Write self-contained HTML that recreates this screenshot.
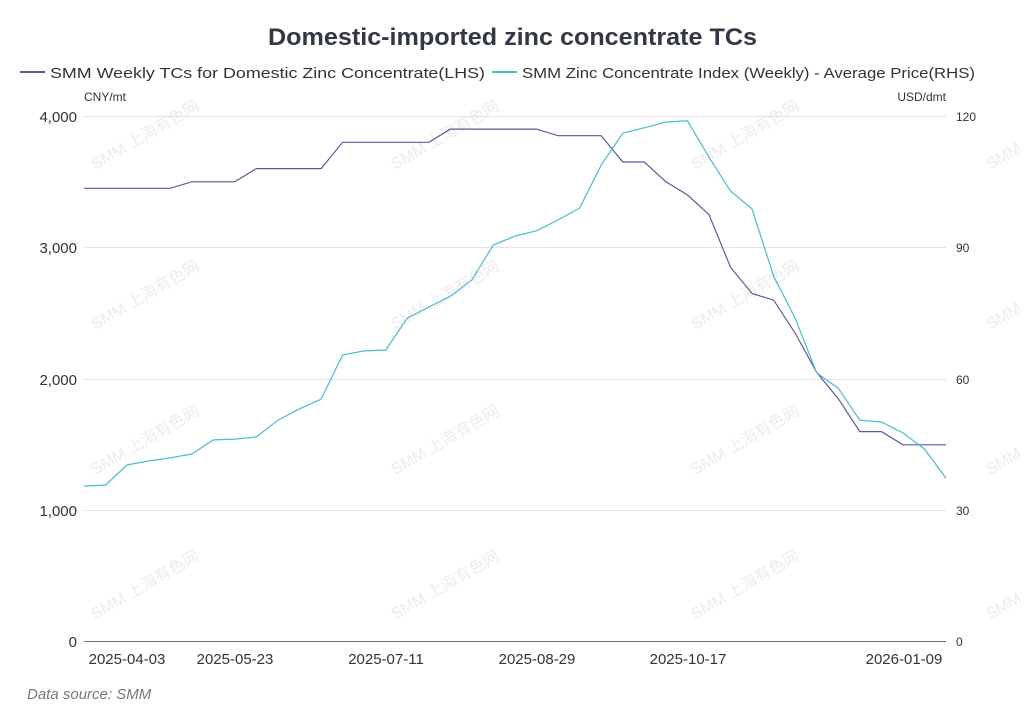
<!DOCTYPE html>
<html><head><meta charset="utf-8"><style>
body{margin:0;background:#fff;}
svg{display:block;font-family:"Liberation Sans","Noto Sans CJK SC",sans-serif;}
</style></head><body>
<svg width="1024" height="722" viewBox="0 0 1024 722" xmlns="http://www.w3.org/2000/svg">
<g fill="#ececec" font-size="16">
<text transform="translate(95,330) rotate(-30)">SMM 上海有色网</text>
<text transform="translate(95,475) rotate(-30)">SMM 上海有色网</text>
<text transform="translate(95,620) rotate(-30)">SMM 上海有色网</text>
<text transform="translate(95,170) rotate(-30)">SMM 上海有色网</text>
<text transform="translate(395,170) rotate(-30)">SMM 上海有色网</text>
<text transform="translate(395,330) rotate(-30)">SMM 上海有色网</text>
<text transform="translate(395,475) rotate(-30)">SMM 上海有色网</text>
<text transform="translate(395,620) rotate(-30)">SMM 上海有色网</text>
<text transform="translate(695,170) rotate(-30)">SMM 上海有色网</text>
<text transform="translate(695,330) rotate(-30)">SMM 上海有色网</text>
<text transform="translate(695,475) rotate(-30)">SMM 上海有色网</text>
<text transform="translate(695,620) rotate(-30)">SMM 上海有色网</text>
<text transform="translate(990,170) rotate(-30)">SMM 上海有色网</text>
<text transform="translate(990,330) rotate(-30)">SMM 上海有色网</text>
<text transform="translate(990,475) rotate(-30)">SMM 上海有色网</text>
<text transform="translate(990,620) rotate(-30)">SMM 上海有色网</text>
</g>
<text x="268" y="45" textLength="489" lengthAdjust="spacingAndGlyphs" font-size="24" font-weight="bold" fill="#333844">Domestic-imported zinc concentrate TCs</text>
<line x1="20" y1="72" x2="45" y2="72" stroke="#5b5b9a" stroke-width="2"/>
<text x="50" y="78" textLength="435" lengthAdjust="spacingAndGlyphs" font-size="15" fill="#333">SMM Weekly TCs for Domestic Zinc Concentrate(LHS)</text>
<line x1="492" y1="72" x2="517" y2="72" stroke="#4cbbd0" stroke-width="2"/>
<text x="522" y="78" textLength="453" lengthAdjust="spacingAndGlyphs" font-size="15" fill="#333">SMM Zinc Concentrate Index (Weekly) - Average Price(RHS)</text>
<text x="84" y="101" font-size="12" fill="#333">CNY/mt</text>
<text x="946" y="101" font-size="12" fill="#333" text-anchor="end">USD/dmt</text>
<g stroke="#e3e3e3" stroke-width="1">
<line x1="84" y1="116.5" x2="946" y2="116.5"/>
<line x1="84" y1="247.5" x2="946" y2="247.5"/>
<line x1="84" y1="379.5" x2="946" y2="379.5"/>
<line x1="84" y1="510.5" x2="946" y2="510.5"/>
</g>
<line x1="84" y1="641.5" x2="946" y2="641.5" stroke="#6e7079" stroke-width="1"/>
<g font-size="15" fill="#333" text-anchor="end">
<text x="77" y="122">4,000</text><text x="77" y="253">3,000</text><text x="77" y="385">2,000</text><text x="77" y="516">1,000</text><text x="77" y="647">0</text>
</g>
<g font-size="12" fill="#333">
<text x="956" y="121">120</text><text x="956" y="252">90</text><text x="956" y="384">60</text><text x="956" y="515">30</text><text x="956" y="646">0</text>
</g>
<g font-size="15" fill="#333" text-anchor="middle">
<text x="127" y="664">2025-04-03</text><text x="235" y="664">2025-05-23</text><text x="386" y="664">2025-07-11</text><text x="537" y="664">2025-08-29</text><text x="688" y="664">2025-10-17</text><text x="904" y="664">2026-01-09</text>
</g>
<text x="27" y="699" font-size="15" font-style="italic" fill="#777">Data source:  SMM</text>
<polyline id="l1" fill="none" stroke="#5b5b9a" stroke-width="1.2"/>
<polyline id="l2" fill="none" stroke="#4cbbd0" stroke-width="1.2"/>
<script>
var a=[3450,3450,3450,3450,3450,3500,3500,3500,3600,3600,3600,3600,3800,3800,3800,3800,3800,3900,3900,3900,3900,3900,3850,3850,3850,3650,3650,3500,3400,3250,2850,2650,2600,2350,2050,1850,1600,1600,1500,1500,1500];
var b=[35.6,35.8,40.4,41.3,42,42.9,46.1,46.3,46.8,50.6,53.2,55.4,65.5,66.4,66.6,73.9,76.4,78.9,82.6,90.6,92.6,93.8,96.3,99,108.8,116.1,117.3,118.6,118.9,110.6,102.9,98.8,83.5,73.9,61.4,57.9,50.6,50.2,47.7,44,37.4];
function p(d,m){return d.map(function(v,i){return (84+i*862/40).toFixed(1)+","+(642-v/m*526).toFixed(1)}).join(" ");}
document.getElementById("l1").setAttribute("points",p(a,4000));
document.getElementById("l2").setAttribute("points",p(b,120));
</script>
</svg>
</body></html>
